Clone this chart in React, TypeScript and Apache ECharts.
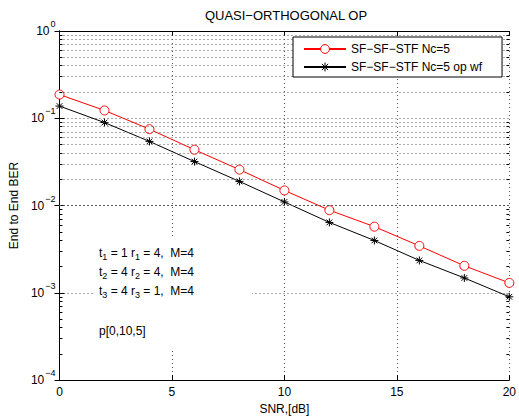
import React, { useEffect, useRef } from "react";
import * as echarts from "echarts";

const snrDb = [0, 2, 4, 6, 8, 10, 12, 14, 16, 18, 20];
const berNc5 = [0.187, 0.123, 0.075, 0.0436, 0.0258, 0.0149, 0.00885, 0.00573, 0.00345, 0.00204, 0.0013];
const berNc5OpWf = [0.138, 0.0893, 0.0543, 0.0319, 0.0189, 0.011, 0.00641, 0.00398, 0.00235, 0.00148, 0.0009];
const seriesNames = ["SF\u2212SF\u2212STF Nc=5", "SF\u2212SF\u2212STF Nc=5 op wf"];
const titleText = "QUASI\u2212ORTHOGONAL OP";
const xAxisName = "SNR,[dB]";
const yAxisName = "End to End BER";
const noteLines = [
  "t{sub|1} = 1 r{sub|1} = 4,  M=4",
  "t{sub|2} = 4 r{sub|2} = 4,  M=4",
  "t{sub|3} = 4 r{sub|3} = 1,  M=4",
];
const noteP = "p[0,10,5]";
const decadeExponents = [-4, -3, -2, -1];
const minorMultipliers = [2, 3, 4, 5, 6, 7, 8, 9];

const FONT = "'Liberation Sans', Arial, Helvetica, sans-serif";
const ASTERISK = "path://M5,0L5,10M0,5L10,5M1.46,1.46L8.54,8.54M1.46,8.54L8.54,1.46";

export default function App() {
  const ref = useRef<HTMLDivElement>(null);
  useEffect(() => {
    const chart = echarts.init(ref.current!, null, { renderer: "svg" });
    const minorValues = decadeExponents.flatMap((e) => minorMultipliers.map((m) => m * Math.pow(10, e)));
    const dotted = { color: "#555", width: 1, type: [1, 3] as number[] };
    const expLabel = (v: number) => {
      const e = Math.round(Math.log10(v));
      return `{b|10}{s|${e < 0 ? "\u2212" + -e : e}}`;
    };
    const yRich = {
      b: { fontSize: 12, fontFamily: FONT, color: "#000" },
      s: { fontSize: 9, fontFamily: FONT, color: "#000", padding: [0, 0, 14, 1] },
    };
    const tickStyle = { show: true, inside: true, length: 5, lineStyle: { color: "#000", width: 1 } };
    const option: any = {
      animation: false,
      backgroundColor: "#fff",
      textStyle: { fontFamily: FONT },
      grid: { left: 59, top: 31, right: 5, bottom: 37, containLabel: false },
      legend: {
        orient: "vertical",
        left: 293,
        top: 37,
        padding: [6, 20, 4, 10],
        itemWidth: 42,
        itemHeight: 11,
        itemGap: 6,
        backgroundColor: "#fff",
        borderColor: "#000",
        borderWidth: 1,
        borderRadius: 0,
        itemStyle: { borderWidth: 1 },
        textStyle: { fontSize: 12, color: "#000", fontFamily: FONT },
        data: seriesNames,
        z: 20,
      },
      xAxis: [
        {
          type: "value",
          min: 0,
          max: 20,
          interval: 5,
          position: "bottom",
          name: xAxisName,
          nameLocation: "middle",
          nameGap: 22,
          nameTextStyle: { fontSize: 12, color: "#000", fontFamily: FONT },
          axisLine: { show: true, lineStyle: { color: "#000", width: 1 } },
          axisTick: tickStyle,
          axisLabel: { fontSize: 12, color: "#000", margin: 6, fontFamily: FONT },
          splitLine: { show: true, lineStyle: dotted },
        },
        {
          type: "value",
          min: 0,
          max: 20,
          interval: 5,
          position: "top",
          axisLine: { show: true, lineStyle: { color: "#000", width: 1 } },
          axisTick: tickStyle,
          axisLabel: { show: false },
          splitLine: { show: false },
        },
      ],
      yAxis: [
        {
          type: "log",
          logBase: 10,
          min: 0.0001,
          max: 1,
          position: "left",
          name: yAxisName,
          nameLocation: "middle",
          nameRotate: 90,
          nameGap: 34,
          nameTextStyle: { fontSize: 12, color: "#000", fontFamily: FONT },
          axisLine: { show: true, lineStyle: { color: "#000", width: 1 } },
          axisTick: tickStyle,
          axisLabel: { formatter: expLabel, rich: yRich, margin: 4 },
          splitLine: { show: true, lineStyle: dotted },
        },
        {
          type: "log",
          logBase: 10,
          min: 0.0001,
          max: 1,
          position: "right",
          axisLine: { show: true, lineStyle: { color: "#000", width: 1 } },
          axisTick: tickStyle,
          axisLabel: { show: false },
          splitLine: { show: false },
        },
      ],
      graphic: [
        {
          type: "rect",
          shape: { x: 93, y: 236, width: 159, height: 114 },
          style: { fill: "#fff" },
          z: 1.5,
          silent: true,
        },
        {
          type: "text",
          x: 99,
          y: 243,
          z: 10,
          style: {
            text: noteLines.join("\n"),
            fill: "#000",
            font: `12px ${FONT}`,
            lineHeight: 19,
            rich: { sub: { fontSize: 9, fontFamily: FONT, fill: "#000", padding: [8, 0, 0, 0] } },
          },
        },
        {
          type: "text",
          x: 99,
          y: 325,
          z: 10,
          style: { text: noteP, fill: "#000", font: `12px ${FONT}` },
        },
        {
          type: "text",
          x: 286,
          y: 15,
          z: 10,
          style: { text: titleText, fill: "#000", font: `13px ${FONT}`, align: "center", verticalAlign: "middle" },
        },
      ],
      series: [
        {
          type: "line",
          name: "minor-grid",
          data: [],
          z: 1,
          silent: true,
          markLine: {
            silent: true,
            symbol: "none",
            label: { show: false },
            animation: false,
            lineStyle: dotted,
            emphasis: { disabled: true },
            data: [
              ...minorValues.map((v) => ({ yAxis: v })),
              ...minorValues.map((v) => [
                { coord: [0, v], lineStyle: { type: "solid", color: "#000", width: 1 } },
                { coord: [0.13, v] },
              ]),
              ...minorValues.map((v) => [
                { coord: [19.87, v], lineStyle: { type: "solid", color: "#000", width: 1 } },
                { coord: [20, v] },
              ]),
            ],
          },
        },
        {
          type: "line",
          name: seriesNames[0],
          data: snrDb.map((x, i) => [x, berNc5[i]]),
          symbol: "circle",
          symbolSize: 9,
          z: 3,
          lineStyle: { color: "#ff0000", width: 1 },
          itemStyle: { color: "#ffffff", borderColor: "#ff0000", borderWidth: 1 },
          emphasis: { disabled: true },
        },
        {
          type: "line",
          name: seriesNames[1],
          data: snrDb.map((x, i) => [x, berNc5OpWf[i]]),
          symbol: ASTERISK,
          symbolSize: 8,
          z: 3,
          lineStyle: { color: "#000", width: 1 },
          itemStyle: { color: "#000", borderColor: "#000", borderWidth: 1 },
          emphasis: { disabled: true },
        },
      ],
    };
    chart.setOption(option);
    return () => chart.dispose();
  }, []);
  return <div ref={ref} style={{ position: "fixed", left: 0, top: 0, width: 519, height: 420 }} />;
}
